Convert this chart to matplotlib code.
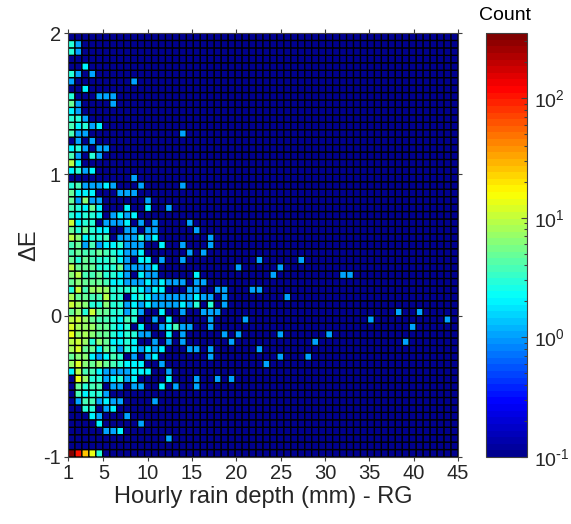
import numpy as np
import matplotlib
matplotlib.use('Agg')
import matplotlib.pyplot as plt
from matplotlib.colors import LogNorm, LinearSegmentedColormap

plt.rcParams['font.family'] = ['Liberation Sans', 'DejaVu Sans']
plt.rcParams['mathtext.default'] = 'regular'
plt.rcParams['axes.unicode_minus'] = False

# Counts for the 17 leftmost rain bins, one line per dE bin, top row first
left_counts = [
    [0, 0, 0, 0, 0, 0, 0, 0, 0, 0, 0, 0, 0, 0, 0, 0, 0],
    [3, 1, 0, 0, 0, 0, 0, 0, 0, 0, 0, 0, 0, 0, 0, 0, 0],
    [3, 1, 0, 0, 0, 0, 0, 0, 0, 0, 0, 0, 0, 0, 0, 0, 0],
    [0, 0, 0, 0, 0, 0, 0, 0, 0, 0, 0, 0, 0, 0, 0, 0, 0],
    [0, 0, 2, 0, 0, 0, 0, 0, 0, 0, 0, 0, 0, 0, 0, 0, 0],
    [3, 1, 0, 1, 0, 0, 0, 0, 0, 0, 0, 0, 0, 0, 0, 0, 0],
    [1, 0, 0, 0, 0, 0, 0, 0, 0, 1, 0, 0, 0, 0, 0, 0, 0],
    [0, 0, 2, 0, 0, 0, 0, 0, 0, 0, 0, 0, 0, 0, 0, 0, 0],
    [3, 0, 0, 0, 1, 1, 1, 0, 0, 0, 0, 0, 0, 0, 0, 0, 0],
    [5, 1, 0, 0, 0, 0, 1, 0, 0, 0, 0, 0, 0, 0, 0, 0, 0],
    [2, 1, 0, 0, 0, 0, 0, 0, 0, 0, 0, 0, 0, 0, 0, 0, 0],
    [3, 3, 1, 0, 0, 0, 0, 0, 0, 0, 0, 0, 0, 0, 0, 0, 0],
    [4, 2, 3, 1, 2, 0, 0, 0, 0, 0, 0, 0, 0, 0, 0, 0, 0],
    [4, 1, 1, 0, 0, 0, 0, 0, 0, 0, 0, 0, 0, 0, 0, 0, 1],
    [0, 1, 0, 1, 0, 0, 0, 0, 0, 0, 0, 0, 0, 0, 0, 0, 0],
    [2, 3, 1, 0, 1, 1, 0, 0, 0, 0, 0, 0, 0, 0, 0, 0, 0],
    [4, 1, 0, 3, 1, 0, 0, 0, 0, 0, 0, 0, 0, 0, 0, 0, 0],
    [9, 2, 0, 0, 0, 0, 0, 0, 0, 0, 0, 0, 0, 0, 0, 0, 0],
    [2, 3, 1, 2, 0, 0, 0, 0, 0, 0, 0, 0, 0, 0, 0, 0, 0],
    [0, 0, 0, 0, 0, 0, 0, 0, 0, 1, 0, 0, 0, 0, 0, 0, 0],
    [3, 4, 1, 1, 1, 2, 1, 0, 0, 0, 1, 0, 0, 0, 0, 0, 1],
    [5, 2, 2, 2, 0, 0, 0, 1, 1, 1, 0, 0, 0, 0, 0, 0, 0],
    [5, 1, 6, 1, 1, 0, 0, 0, 0, 0, 0, 1, 0, 0, 0, 0, 0],
    [4, 3, 2, 5, 2, 0, 0, 0, 2, 0, 0, 2, 0, 0, 1, 0, 0],
    [3, 2, 3, 3, 2, 0, 1, 2, 1, 2, 0, 0, 0, 0, 0, 0, 0],
    [10, 2, 3, 3, 0, 1, 1, 1, 2, 0, 1, 0, 1, 0, 0, 0, 0],
    [5, 3, 5, 3, 2, 2, 0, 0, 1, 1, 0, 1, 1, 0, 0, 0, 0],
    [9, 6, 2, 3, 3, 4, 0, 1, 1, 1, 3, 1, 2, 0, 0, 0, 0],
    [4, 5, 1, 4, 1, 2, 2, 3, 1, 1, 1, 0, 0, 2, 0, 0, 1],
    [4, 5, 4, 4, 5, 4, 3, 2, 1, 1, 2, 0, 0, 0, 0, 0, 0],
    [5, 3, 5, 4, 3, 3, 4, 2, 1, 0, 2, 2, 0, 1, 0, 0, 1],
    [9, 5, 5, 5, 3, 3, 3, 5, 1, 1, 1, 1, 2, 0, 0, 0, 0],
    [6, 9, 4, 4, 5, 3, 3, 2, 1, 0, 2, 1, 1, 0, 0, 0, 0],
    [5, 6, 5, 5, 5, 4, 2, 2, 1, 1, 1, 2, 1, 2, 1, 1, 1],
    [3, 10, 4, 7, 7, 7, 3, 3, 3, 3, 2, 1, 2, 2, 0, 0, 0],
    [8, 5, 5, 4, 4, 9, 3, 3, 0, 2, 3, 2, 1, 1, 1, 1, 1],
    [10, 8, 6, 3, 3, 6, 3, 3, 1, 2, 1, 2, 1, 1, 1, 1, 2],
    [5, 7, 3, 10, 5, 5, 3, 3, 1, 3, 1, 0, 0, 2, 0, 0, 1],
    [9, 11, 7, 5, 4, 4, 3, 2, 4, 3, 0, 0, 1, 0, 2, 0, 0],
    [12, 8, 7, 7, 5, 5, 3, 2, 3, 0, 2, 0, 0, 1, 2, 4, 1],
    [14, 7, 8, 6, 5, 5, 3, 2, 3, 3, 1, 1, 0, 0, 2, 0, 1],
    [9, 10, 7, 3, 6, 5, 2, 2, 3, 2, 0, 0, 1, 0, 1, 0, 1],
    [8, 12, 5, 5, 2, 5, 3, 1, 3, 2, 1, 2, 1, 2, 0, 0, 0],
    [5, 6, 6, 2, 1, 2, 4, 3, 0, 1, 0, 1, 2, 0, 0, 0, 0],
    [7, 12, 6, 5, 7, 5, 4, 3, 2, 2, 2, 0, 0, 1, 0, 0, 0],
    [2, 9, 4, 4, 2, 1, 1, 1, 1, 2, 2, 2, 0, 0, 1, 0, 0],
    [0, 14, 7, 3, 3, 1, 2, 3, 1, 2, 0, 0, 0, 0, 2, 0, 0],
    [0, 5, 3, 4, 4, 0, 1, 1, 0, 1, 1, 0, 0, 2, 0, 1, 0],
    [0, 4, 2, 3, 3, 1, 0, 0, 0, 0, 0, 0, 0, 0, 0, 0, 0],
    [0, 1, 4, 4, 1, 2, 1, 1, 0, 0, 0, 0, 1, 0, 0, 0, 0],
    [0, 0, 3, 3, 0, 1, 2, 0, 0, 0, 0, 0, 0, 0, 0, 0, 0],
    [0, 0, 0, 2, 1, 0, 0, 0, 1, 0, 0, 0, 0, 0, 0, 0, 0],
    [0, 0, 0, 0, 2, 0, 0, 0, 0, 0, 1, 0, 0, 0, 0, 0, 0],
    [0, 0, 0, 0, 0, 1, 1, 2, 0, 0, 0, 0, 0, 0, 0, 0, 0],
    [0, 0, 0, 0, 0, 0, 0, 0, 0, 0, 0, 0, 0, 0, 1, 0, 0],
    [0, 0, 0, 0, 0, 0, 0, 0, 0, 0, 0, 0, 0, 0, 0, 0, 0],
    [350, 100, 25, 14, 3, 0, 0, 0, 0, 0, 0, 0, 0, 0, 0, 0, 0],
]

# Isolated counts further right: dE row, rain column, count
right_rows = [25, 26, 27, 28, 29, 29, 30, 30, 31, 31, 32, 32, 32, 32, 33, 33,
              34, 34, 34, 34, 34, 34, 35, 35, 35, 35, 35, 35,
              36, 36, 36, 36, 37, 37, 37, 37, 37, 38, 38, 38, 38,
              39, 39, 39, 40, 40, 40, 40, 41, 41, 41, 42, 42, 42, 42,
              43, 43, 43, 44, 46, 46, 46, 47]
right_cols = [17, 18, 20, 20, 17, 19, 27, 33, 24, 30, 18, 29, 39, 40, 18, 19,
              17, 18, 21, 22, 26, 27, 17, 18, 19, 20, 22, 31,
              17, 18, 20, 22, 19, 20, 21, 47, 50, 20, 25, 43, 54,
              17, 20, 49, 22, 24, 30, 37, 23, 35, 48, 17, 18, 20, 27,
              20, 30, 34, 28, 18, 21, 23, 18]
right_counts = [1, 1, 1, 1, 1, 1, 1, 1, 1, 1, 2, 1, 1, 1, 1, 1,
                1, 1, 1, 1, 1, 1, 1, 2, 1, 1, 1, 1,
                1, 3, 3, 1, 1, 1, 1, 1, 1, 1, 1, 1, 1,
                1, 1, 1, 1, 1, 1, 1, 1, 1, 1, 1, 1, 1, 1,
                1, 1, 1, 1, 1, 1, 1, 1]

cbar_ticks = [0.1, 1, 10, 100]
cbar_labels = [r'$10^{\text{-}1}$', r'$10^{0}$', r'$10^{1}$', r'$10^{2}$']

n_rain_bins = 56
n_de_bins = 57

counts = np.zeros((n_de_bins, n_rain_bins))
counts[:, :17] = np.array(left_counts)
counts[right_rows, right_cols] = right_counts
counts = counts[::-1]  # row 0 was the top one

rain_edges = np.linspace(1, 45, n_rain_bins + 1)
de_edges = np.linspace(-1, 2, n_de_bins + 1)

W, H = 571, 524
dark = '#404040'

# jet the way MATLAB spaces it, yellow sits lower than in matplotlib's
jet = LinearSegmentedColormap.from_list('matlab_jet', [
    (0, (0, 0, 0.5625)), (1 / 8, (0, 0, 1)), (3 / 8, (0, 1, 1)),
    (5 / 8, (1, 1, 0)), (7 / 8, (1, 0, 0)), (1, (0.5, 0, 0))], N=64)

fig = plt.figure(figsize=(W / 100, H / 100), dpi=100)
ax = fig.add_axes([68 / W, 67 / H, 390 / W, 424 / H])
cax = fig.add_axes([486 / W, 67 / H, 41 / W, 424 / H])

norm = LogNorm(vmin=0.1, vmax=350)
mesh = ax.pcolormesh(rain_edges, de_edges, np.maximum(counts, 0.1), cmap=jet,
                     norm=norm, edgecolors='black', linewidth=0.95, antialiased=True)
mesh.set_snap(False)

ax.set_xlim(1, 45)
ax.set_ylim(-1, 2)
ax.set_xticks([1, 5, 10, 15, 20, 25, 30, 35, 40, 45])
ax.set_yticks([-1, 0, 1, 2])
ax.tick_params(axis='both', which='major', direction='out', length=3, width=0.8,
               color=dark, labelsize=14.5, labelcolor='#262626',
               top=True, right=True, pad=2)
ax.set_xlabel('Hourly rain depth (mm) - RG', fontsize=17, color='#262626', labelpad=2)
ax.set_ylabel('\u0394E', fontsize=17, color='#262626', labelpad=2)
for spine in ax.spines.values():
    spine.set_color(dark)
    spine.set_linewidth(0.8)

cbar = fig.colorbar(mesh, cax=cax)
cbar.set_ticks(cbar_ticks, labels=cbar_labels)
cbar.outline.set_edgecolor(dark)
cbar.outline.set_linewidth(0.8)
cbar.ax.tick_params(which='major', direction='in', length=4, width=0.8, color=dark,
                    labelsize=14, labelcolor='#262626', pad=5)
cbar.ax.tick_params(which='minor', direction='in', length=2.5, width=0.8, color=dark)
cax.set_title('Count', fontsize=14, color='black', pad=9, x=0.47)

fig.savefig('out.png', dpi=100)
